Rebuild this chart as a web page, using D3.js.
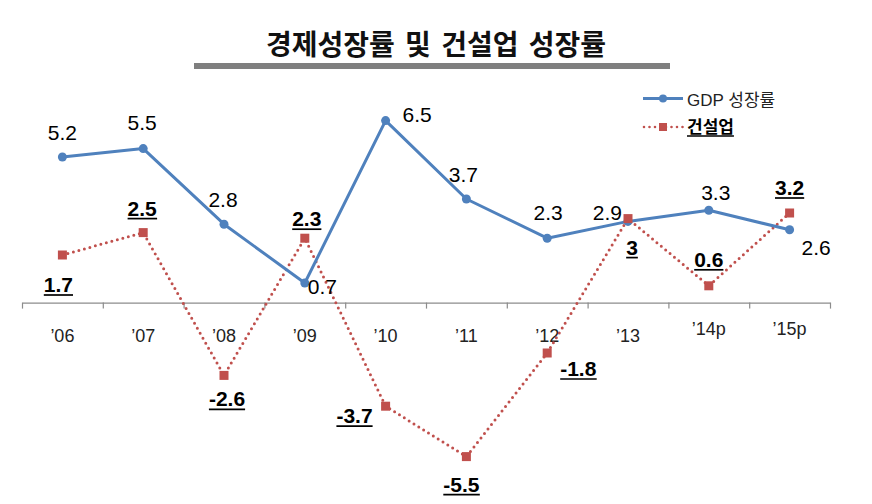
<!DOCTYPE html>
<html><head><meta charset="utf-8">
<script src="https://cdn.jsdelivr.net/npm/d3@7"></script>
<style>
body{margin:0;background:#fff;}
svg{display:block;}
text{font-family:"Liberation Sans","Noto Sans CJK KR",Arial,sans-serif;}
</style></head>
<body>
<svg id="chart" width="872" height="504"></svg>
<script>
// ---- data ----
const categories = ["’06","’07","’08","’09","’10","’11","’12","’13","’14p","’15p"];
const gdpGrowth = [5.2, 5.5, 2.8, 0.7, 6.5, 3.7, 2.3, 2.9, 3.3, 2.6];
const constructionGrowth = [1.7, 2.5, -2.6, 2.3, -3.7, -5.5, -1.8, 3, 0.6, 3.2];
const seriesNames = ["GDP 성장률", "건설업"];
const titleText = "경제성장률 및 건설업 성장률";

// label placement (style): [dx, dy, anchor]
const gdpLabelPlace = [[0,-17,"middle"],[-1,-19,"middle"],[-1,-17,"middle"],[3,11,"start"],[17,1,"start"],
  [-3,-17,"middle"],[1,-18,"middle"],[-6,-1,"end"],[7,-10,"middle"],[12,25,"start"]];
const conLabelPlace = [[-4,37,"middle"],[-1,-17,"middle"],[3,31,"middle"],[2,-12,"middle"],[-13,17,"end"],
  [-5,35,"middle"],[13,23,"start"],[4,36,"middle"],[0,-19,"middle"],[0,-18,"middle"]];

const blue = "#4F81BD", red = "#C0504D";
const svg = d3.select("#chart");

// scales
const x = d3.scaleBand().domain(categories).range([22, 830]).padding(0);
const xEdge = d3.scaleLinear().domain([0, categories.length]).range([22, 830]);
const y = d3.scaleLinear().domain([-6, 7]).range([302.6 + 6*28, 302.6 - 7*28]);
const cx = c => x(c) + x.bandwidth()/2;

// title
svg.append("text").attr("x", 436).attr("y", 55).attr("text-anchor","middle")
  .style("font-family","'Noto Sans CJK KR',sans-serif").style("font-weight","bold")
  .style("font-size","28px").style("word-spacing","4px").attr("fill","#111").text(titleText);
svg.append("rect").attr("x",194).attr("y",63).attr("width",476).attr("height",6).attr("fill","#7f7f7f");

// axis
const axis = d3.axisBottom(xEdge).tickValues(d3.range(0, categories.length+1)).tickFormat("").tickSize(6).tickSizeOuter(0);
const ag = svg.append("g").attr("transform",`translate(0,${y(0)})`).call(axis);
ag.select(".domain").attr("stroke","#8c8c8c").attr("stroke-width",1.2);
ag.selectAll(".tick line").attr("stroke","#8c8c8c").attr("stroke-width",1.2);

svg.append("g").selectAll("text").data(categories).join("text")
  .attr("x", d => cx(d)).attr("y", d => d.endsWith("p") ? 335 : 341.5)
  .attr("text-anchor","middle").style("font-size","18px").attr("fill","#222").text(d => d);

// lines
const lineGen = vals => d3.line().x((d,i)=>cx(categories[i])).y(d=>y(d))(vals);
svg.append("path").attr("d", lineGen(constructionGrowth)).attr("fill","none")
  .attr("stroke",red).attr("stroke-width",3).attr("stroke-linecap","round").attr("stroke-dasharray","0 5.7");
svg.append("path").attr("d", lineGen(gdpGrowth)).attr("fill","none")
  .attr("stroke",blue).attr("stroke-width",3).attr("stroke-linejoin","round");

svg.append("g").selectAll("circle").data(gdpGrowth).join("circle")
  .attr("cx",(d,i)=>cx(categories[i])).attr("cy",d=>y(d)).attr("r",4.5).attr("fill",blue);
svg.append("g").selectAll("rect").data(constructionGrowth).join("rect")
  .attr("x",(d,i)=>cx(categories[i])-4.5).attr("y",d=>y(d)-4.5).attr("width",9).attr("height",9).attr("fill",red);

// labels
function underline(sel){
  sel.each(function(){
    const b = this.getBBox();
    const by = +d3.select(this).attr("y");
    svg.append("line").attr("x1",b.x).attr("x2",b.x+b.width).attr("y1",by+3).attr("y2",by+3)
      .attr("stroke","#000").attr("stroke-width",1.7);
  });
}
svg.append("g").selectAll("text").data(gdpGrowth).join("text")
  .attr("x",(d,i)=>cx(categories[i])+gdpLabelPlace[i][0]).attr("y",(d,i)=>y(d)+gdpLabelPlace[i][1])
  .attr("text-anchor",(d,i)=>gdpLabelPlace[i][2]).style("font-size","21px").attr("fill","#000").text(d=>d);
const cl = svg.append("g").selectAll("text").data(constructionGrowth).join("text")
  .attr("x",(d,i)=>cx(categories[i])+conLabelPlace[i][0]).attr("y",(d,i)=>y(d)+conLabelPlace[i][1])
  .attr("text-anchor",(d,i)=>conLabelPlace[i][2]).style("font-size","21px").style("font-weight","bold")
  .attr("fill","#000").text(d=>d);
underline(cl);

// legend
const lg = svg.append("g");
lg.append("line").attr("x1",643).attr("x2",683).attr("y1",98.5).attr("y2",98.5).attr("stroke",blue).attr("stroke-width",3);
lg.append("circle").attr("cx",663).attr("cy",98.5).attr("r",4).attr("fill",blue);
lg.append("text").attr("x",687).attr("y",106).style("font-size","17px").attr("fill","#222").text(seriesNames[0]);
lg.append("line").attr("x1",644).attr("x2",683).attr("y1",127).attr("y2",127).attr("stroke",red).attr("stroke-width",2.6)
  .attr("stroke-linecap","round").attr("stroke-dasharray","0 5.5");
lg.append("rect").attr("x",659).attr("y",123).attr("width",8).attr("height",8).attr("fill",red);
const lt = lg.append("text").attr("x",687).attr("y",133).style("font-size","17px").style("font-weight","bold")
  .attr("fill","#000").text(seriesNames[1]);
underline(lt);
</script>
</body></html>
